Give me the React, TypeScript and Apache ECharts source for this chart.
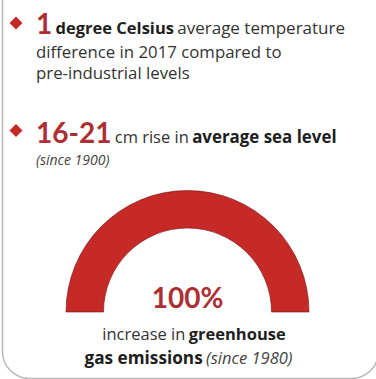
import React, { useEffect, useRef } from 'react';
import * as echarts from 'echarts';

// Stat 1
const stat1Number = ['1'];
const stat1Bold = ['degree Celsius'];
const stat1Lines = ['average temperature', 'difference in 2017 compared to', 'pre-industrial levels'];
// Stat 2
const stat2Number = ['16-21'];
const stat2Regular = ['cm rise in'];
const stat2Bold = ['average sea level'];
const stat2Note = ['(since 1900)'];
// Gauge
const gaugeValues = [100];
const gaugeMin = 0;
const gaugeMax = 100;
const gaugeLines = ['increase in', 'greenhouse', 'gas emissions', '(since 1980)'];

const FONT = 'Open Sans';
const NUM_FONT = 'Lato';
const RED = '#c62a27';
const NUM_RED = '#ad2f34';
const FS = 16.5;

export default function App() {
  const ref = useRef<HTMLDivElement>(null);
  useEffect(() => {
    if (!ref.current) return;
    const chart = echarts.init(ref.current, undefined, { renderer: 'svg' });
    const diamond = (cx: number, cy: number, s: number) => ({
      type: 'polygon',
      shape: { points: [[cx, cy - s], [cx + s, cy], [cx, cy + s], [cx - s, cy]] },
      style: { fill: RED },
    });
    const num = { fontFamily: NUM_FONT, fontSize: 28, fontWeight: 'bold', fill: NUM_RED, verticalAlign: 'bottom' };
    const bold = { fontFamily: FONT, fontSize: FS, fontWeight: 'bold', fill: '#1e1e1e', verticalAlign: 'bottom', padding: [0, 0, 1, 0] };
    const reg = { fontFamily: FONT, fontSize: FS, fill: '#333', verticalAlign: 'bottom', padding: [0, 0, 1, 0] };
    chart.setOption({
      animation: false,
      backgroundColor: '#ffffff',
      graphic: [
        {
          type: 'rect',
          shape: { x: 2.5, y: -40, width: 376, height: 418.5, r: 27 },
          style: { fill: 'none', stroke: '#b8b8b8', lineWidth: 1.5 },
          z: 0,
        },
        diamond(16, 23, 6.5),
        {
          type: 'text',
          x: 36,
          y: 37,
          style: {
            text: `{num|${stat1Number[0]}} {b|${stat1Bold[0]}} {r|${stat1Lines[0]}}`,
            verticalAlign: 'bottom',
            rich: { num, b: bold, r: { ...reg, fontSize: 17 } },
          },
        },
        {
          type: 'text',
          x: 36,
          y: 42.5,
          style: { text: stat1Lines[1], fontFamily: FONT, fontSize: 16.8, fill: '#333', verticalAlign: 'top' },
        },
        {
          type: 'text',
          x: 36,
          y: 64,
          style: { text: stat1Lines[2], fontFamily: FONT, fontSize: 16.8, fill: '#333', verticalAlign: 'top' },
        },
        diamond(16, 130.5, 6.5),
        {
          type: 'text',
          x: 36,
          y: 146,
          style: {
            text: `{num|${stat2Number[0]}} {r|${stat2Regular[0]}} {b|${stat2Bold[0]}}`,
            verticalAlign: 'bottom',
            rich: { num, b: { ...bold, fontSize: 16.9 }, r: reg },
          },
        },
        {
          type: 'text',
          x: 36,
          y: 152.5,
          style: { text: stat2Note[0], fontFamily: FONT, fontSize: 14, fontStyle: 'italic', fill: '#444', verticalAlign: 'top' },
        },
        {
          type: 'text',
          x: 194,
          y: 343,
          style: {
            text: `{r|${gaugeLines[0]}} {b|${gaugeLines[1]}}`,
            align: 'center',
            verticalAlign: 'bottom',
            rich: { b: bold, r: reg },
          },
        },
        {
          type: 'text',
          x: 188.5,
          y: 367,
          style: {
            text: `{b|${gaugeLines[2]}} {i|${gaugeLines[3]}}`,
            align: 'center',
            verticalAlign: 'bottom',
            rich: {
              b: { ...bold, fontSize: 17.2 },
              i: { fontFamily: FONT, fontSize: 16.5, fontStyle: 'italic', fill: '#444', verticalAlign: 'bottom', padding: [0, 0, 1, 0] },
            },
          },
        },
      ],
      series: [
        {
          type: 'gauge',
          center: [187.5, 312],
          radius: 121.5,
          startAngle: 180,
          endAngle: 0,
          min: gaugeMin,
          max: gaugeMax,
          progress: {
            show: true,
            width: 37.5,
            roundCap: false,
            itemStyle: { color: RED, borderColor: '#6e1416', borderWidth: 0.6 },
          },
          axisLine: { lineStyle: { width: 37.5, color: [[1, 'rgba(0,0,0,0)']] } },
          splitLine: { show: false },
          axisTick: { show: false },
          axisLabel: { show: false },
          pointer: { show: false },
          anchor: { show: false },
          title: { show: false },
          detail: {
            valueAnimation: false,
            formatter: '{value}%',
            offsetCenter: [0, -15],
            fontSize: 28,
            fontWeight: 'bold',
            fontFamily: NUM_FONT,
            color: NUM_RED,
          },
          data: gaugeValues.map((v) => ({ value: v })),
        },
      ],
    });
    return () => chart.dispose();
  }, []);
  return (
    <div
      ref={ref}
      style={{ position: 'fixed', left: 0, top: 0, width: 376, height: 379 }}
    />
  );
}
